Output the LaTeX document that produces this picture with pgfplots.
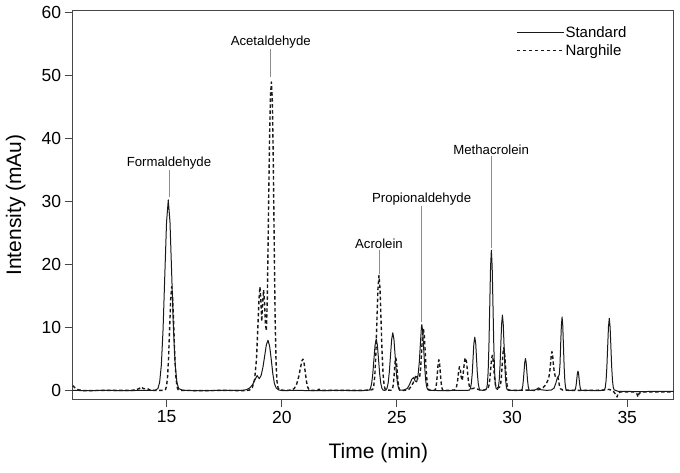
\documentclass[border=0pt]{standalone}
\usepackage{fontspec}
\setmainfont{Liberation Sans}
\usepackage{pgfplots}
\pgfplotsset{compat=1.18}
\definecolor{ann}{RGB}{140,140,140}
\definecolor{framec}{RGB}{70,70,70}
\definecolor{ink}{RGB}{25,25,25}
\pgfplotsset{
 solidleg/.style={legend image code/.code={\draw[##1] (0pt,0pt) -- (47pt,0pt);}},
 dashleg/.style={legend image code/.code={\path (0pt,0pt) -- (47pt,0pt); \draw[##1] (12pt,0pt) -- (47pt,0pt);}},
}
\begin{document}
\begin{tikzpicture}
\begin{axis}[
 scale only axis, width=600.6pt, height=388.6pt,
 xmin=10.92, xmax=37.0, ymin=-1.37, ymax=60.32,
 xtick={15,20,25,30,35}, ytick={0,10,20,30,40,50,60},
 tick pos=left, tick align=outside, major tick length=8pt,
 axis line style={framec, line width=1pt},
 tick style={framec, line width=1pt},
 /pgf/number format/assume math mode=true,
 ticklabel style={font=\fontsize{17.5}{20}\selectfont, text=black},
 xlabel={Time (min)}, ylabel={Intensity (mAu)},
 label style={font=\fontsize{21}{24}\selectfont},
 xlabel style={at={(axis description cs:0.509,-0.138)}, anchor=center},
 ylabel style={at={(axis description cs:-0.095,0.5)}, anchor=center},
 legend style={draw=none, fill=none, at={(axis description cs:0.738,0.963)}, anchor=north west,
   inner sep=0pt, font=\fontsize{15}{17}\selectfont, row sep=3.5pt, column sep=0pt,
   nodes={inner sep=1pt}},
 legend cell align=left,
]
\addplot[ink, line width=1.0pt, line join=round, solidleg] coordinates {
(10.92,0.05) (11.5,0.0) (12.3,0.05) (13.2,0.0) (14.0,0.05) (14.5,0.05)
(14.62,0.34) (14.695,1.33) (14.77,4.10) (14.845,9.84) (14.92,18.38) (14.995,26.74) (15.07,30.3) (15.145,26.74) (15.22,18.38) (15.295,9.84) (15.37,4.10) (15.445,1.33) (15.52,0.34)
(15.7,0.05) (16.5,0.0) (17.5,0.05) (18.3,0.05)
(18.45,0.15) (18.6,0.4) (18.72,0.9) (18.83,1.7) (18.93,2.4) (19.02,1.9) (19.10,2.4) (19.18,3.7) (19.26,5.6) (19.33,7.3) (19.40,8.0) (19.47,7.1) (19.54,5.0) (19.61,2.7) (19.68,1.1) (19.76,0.4) (19.88,0.1) (20.05,0.0)
(20.5,0.05) (21.5,0.0) (22.5,0.05) (23.4,0.0) (23.7,0.05)
(23.80,0.09) (23.85,0.36) (23.90,1.11) (23.95,2.66) (24.00,4.97) (24.05,7.24) (24.10,8.2) (24.15,7.24) (24.20,4.97) (24.25,2.66) (24.30,1.11) (24.35,0.36) (24.40,0.09)
(24.46,0.05)
(24.52,0.10) (24.57,0.40) (24.62,1.24) (24.67,2.99) (24.72,5.58) (24.77,8.12) (24.82,9.2) (24.87,8.12) (24.92,5.58) (24.97,2.99) (25.02,1.24) (25.07,0.40) (25.12,0.10)
(25.3,0.1) (25.45,0.35) (25.55,1.0) (25.64,1.8) (25.72,2.1) (25.80,1.5) (25.86,1.4) (25.92,2.6) (25.97,4.5) (26.02,7.6) (26.06,9.9) (26.08,10.5) (26.12,9.3) (26.165,6.37) (26.21,3.41) (26.255,1.42) (26.30,0.46) (26.35,0.12) (26.5,0.05)
(27.0,0.0) (27.6,0.05) (28.05,0.05)
(28.155,0.09) (28.19,0.37) (28.23,1.15) (28.27,2.76) (28.305,5.16) (28.34,7.50) (28.38,8.5) (28.42,7.50) (28.455,5.16) (28.49,2.76) (28.53,1.15) (28.57,0.37) (28.605,0.09)
(28.75,0.05)
(28.89,0.25) (28.925,0.98) (28.96,3.02) (28.995,7.24) (29.03,13.53) (29.065,19.68) (29.10,22.3) (29.135,19.68) (29.17,13.53) (29.205,7.24) (29.24,3.02) (29.275,0.98) (29.31,0.3) (29.34,0.25)
(29.37,0.2) (29.405,0.53) (29.44,1.62) (29.475,3.90) (29.51,7.28) (29.545,10.59) (29.58,12.0) (29.615,10.59) (29.65,7.28) (29.685,3.90) (29.72,1.62) (29.755,0.53) (29.79,0.13)
(29.95,0.05) (30.3,0.05)
(30.40,0.06) (30.43,0.22) (30.46,0.69) (30.49,1.66) (30.52,3.09) (30.55,4.50) (30.58,5.1) (30.61,4.50) (30.64,3.09) (30.67,1.66) (30.70,0.69) (30.73,0.22) (30.76,0.06)
(30.95,0.05) (31.05,0.2) (31.15,0.45) (31.25,0.15) (31.5,0.05) (31.7,0.1) (31.82,0.4) (31.9,1.2) (31.96,2.0) (32.02,2.3) (32.05,2.6) (32.08,4.2) (32.11,7.4) (32.14,10.4) (32.17,11.7) (32.20,10.33) (32.23,7.10) (32.26,3.80) (32.29,1.58) (32.32,0.51) (32.35,0.13) (32.5,0.05)
(32.71,0.05) (32.735,0.14) (32.76,0.42) (32.785,1.01) (32.81,1.88) (32.835,2.74) (32.86,3.1) (32.885,2.74) (32.91,1.88) (32.935,1.01) (32.96,0.42) (32.985,0.14) (33.01,0.03)
(33.3,0.05) (33.8,0.0) (33.95,0.1)
(34.01,0.13) (34.045,0.50) (34.08,1.56) (34.115,3.73) (34.15,6.97) (34.185,10.15) (34.22,11.5) (34.255,10.15) (34.29,6.97) (34.325,3.73) (34.36,1.56) (34.395,0.50) (34.43,0.13)
(34.6,-0.1) (35.5,-0.15) (36.5,-0.1) (37.0,-0.1)
};
\addlegendentry{Standard}
\addplot[ink, line width=1.4pt, dash pattern=on 3.5pt off 2.5pt, line join=round, dashleg] coordinates {
(10.92,0.8) (11.0,0.5) (11.15,0.15) (11.4,0.0) (12.5,0.05) (13.5,0.05) (13.8,0.3) (13.9,0.6) (14.0,0.3) (14.15,0.35) (14.3,0.05) (14.88,0.05)
(14.95,0.18) (14.995,0.72) (15.04,2.23) (15.085,5.36) (15.13,10.01) (15.175,14.56) (15.22,16.5) (15.265,14.56) (15.31,10.01) (15.355,5.36) (15.40,2.23) (15.445,0.72) (15.49,0.18)
(15.6,0.05) (16.5,0.0) (17.5,0.05) (18.3,0.0) (18.5,0.05)
(18.6,0.1) (18.72,0.5) (18.82,1.8) (18.90,5.0) (18.96,10.0) (19.01,14.5) (19.05,16.5) (19.09,14.5) (19.13,11.0) (19.17,14.0) (19.21,16.0) (19.25,14.0) (19.29,10.5) (19.33,9.5) (19.37,14.5) (19.40,22.0) (19.43,30.5) (19.47,40.5) (19.51,47.0) (19.55,49.0) (19.59,46.0) (19.63,36.5) (19.67,23.5) (19.71,11.5) (19.75,4.5) (19.79,1.5) (19.84,0.4) (19.92,0.1)
(20.2,0.05) (20.45,0.1) (20.55,0.4) (20.65,1.1) (20.74,2.3) (20.82,3.8) (20.88,4.8) (20.92,5.0) (20.97,4.3) (21.02,2.9) (21.07,1.5) (21.12,0.6) (21.18,0.15) (21.3,0.05)
(21.55,0.05) (21.62,0.25) (21.7,0.05) (22.5,0.05) (23.5,0.05) (23.85,0.1)
(23.95,0.20) (23.995,0.80) (24.04,2.48) (24.085,5.94) (24.13,11.10) (24.175,16.15) (24.22,18.3) (24.265,16.15) (24.31,11.10) (24.355,5.94) (24.40,2.48) (24.445,0.80) (24.49,0.20)
(24.6,0.1)
(24.77,0.06) (24.80,0.23) (24.83,0.70) (24.86,1.69) (24.89,3.15) (24.92,4.59) (24.95,5.2) (24.98,4.59) (25.01,3.15) (25.04,1.69) (25.07,0.70) (25.10,0.23) (25.13,0.06)
(25.3,0.05) (25.5,0.15) (25.6,0.6) (25.7,1.2) (25.78,2.0) (25.84,2.5) (25.90,1.9) (25.95,1.9) (25.99,2.3) (26.03,3.6) (26.07,6.2) (26.11,8.7) (26.15,9.8) (26.19,8.65) (26.23,5.94) (26.27,3.18) (26.31,1.33) (26.35,0.43) (26.39,0.11) (26.5,0.05)
(26.64,0.05) (26.67,0.22) (26.70,0.66) (26.73,1.59) (26.76,2.97) (26.79,4.32) (26.82,4.9) (26.85,4.32) (26.88,2.97) (26.91,1.59) (26.94,0.66) (26.97,0.22) (27.00,0.05)
(27.3,0.05) (27.5,0.1) (27.58,0.5) (27.63,1.5) (27.67,2.8) (27.71,3.8) (27.75,3.5) (27.79,2.2) (27.83,1.6) (27.87,2.5) (27.91,3.9) (27.95,5.0) (27.99,5.2) (28.03,4.3) (28.07,2.7) (28.11,1.3) (28.16,0.5) (28.25,0.3) (28.35,0.4) (28.45,0.3) (28.6,0.1) (28.8,0.1)
(28.93,0.3) (28.965,0.5) (29.0,0.9) (29.035,1.9) (29.07,3.4) (29.105,4.94) (29.14,5.6) (29.175,4.94) (29.21,3.40) (29.245,1.82) (29.28,0.9) (29.315,0.5)
(29.35,0.45) (29.43,0.5) (29.465,0.6) (29.5,0.92) (29.535,2.21) (29.57,4.12) (29.605,6.0) (29.64,6.8) (29.675,6.0) (29.71,4.12) (29.745,2.21) (29.78,0.92) (29.815,0.30) (29.85,0.08)
(30.2,0.05) (30.6,0.1) (31.0,0.05) (31.2,0.2) (31.35,0.5) (31.45,0.9) (31.55,1.6) (31.60,2.2) (31.64,3.2) (31.67,4.3) (31.70,5.6) (31.73,6.2) (31.76,5.6) (31.79,4.3) (31.83,3.0) (31.87,2.3) (31.92,2.2) (31.97,2.3) (32.01,1.8) (32.05,0.9) (32.10,0.3) (32.2,0.1)
(32.5,0.05) (33.5,0.05) (34.0,0.1) (34.2,0.2) (34.3,0.1) (34.42,-0.2) (34.52,-0.7) (34.56,-1.0) (34.6,-0.4) (34.7,-0.2) (35.3,-0.2) (35.42,-0.5) (35.47,-1.0) (35.52,-0.4) (35.65,-0.2) (36.5,-0.2) (37.0,-0.2)
};
\addlegendentry{Narghile}
\draw[ann, line width=0.8pt] (axis cs:15.10,35.0) -- (axis cs:15.10,30.8);
\node[anchor=south, inner sep=0pt, font=\fontsize{13.2}{15}\selectfont] at (axis cs:15.10,35.15) {Formaldehyde};
\draw[ann, line width=0.8pt] (axis cs:19.52,54.2) -- (axis cs:19.52,49.8);
\node[anchor=south, inner sep=0pt, font=\fontsize{13.2}{15}\selectfont] at (axis cs:19.52,54.35) {Acetaldehyde};
\draw[ann, line width=0.8pt] (axis cs:24.22,22.4) -- (axis cs:24.22,18.6);
\node[anchor=south, inner sep=0pt, font=\fontsize{13.2}{15}\selectfont] at (axis cs:24.22,22.55) {Acrolein};
\draw[ann, line width=0.8pt] (axis cs:26.07,29.3) -- (axis cs:26.07,10.95);
\node[anchor=south, inner sep=0pt, font=\fontsize{13.2}{15}\selectfont] at (axis cs:26.07,29.45) {Propionaldehyde};
\draw[ann, line width=0.8pt] (axis cs:29.09,37.3) -- (axis cs:29.09,22.6);
\node[anchor=south, inner sep=0pt, font=\fontsize{13.2}{15}\selectfont] at (axis cs:29.09,37.45) {Methacrolein};
\end{axis}
\path ([shift={(-72.7pt,-72.7pt)}]current axis.south west) rectangle ([shift={(6.7pt,10.7pt)}]current axis.north east);
\end{tikzpicture}
\end{document}
